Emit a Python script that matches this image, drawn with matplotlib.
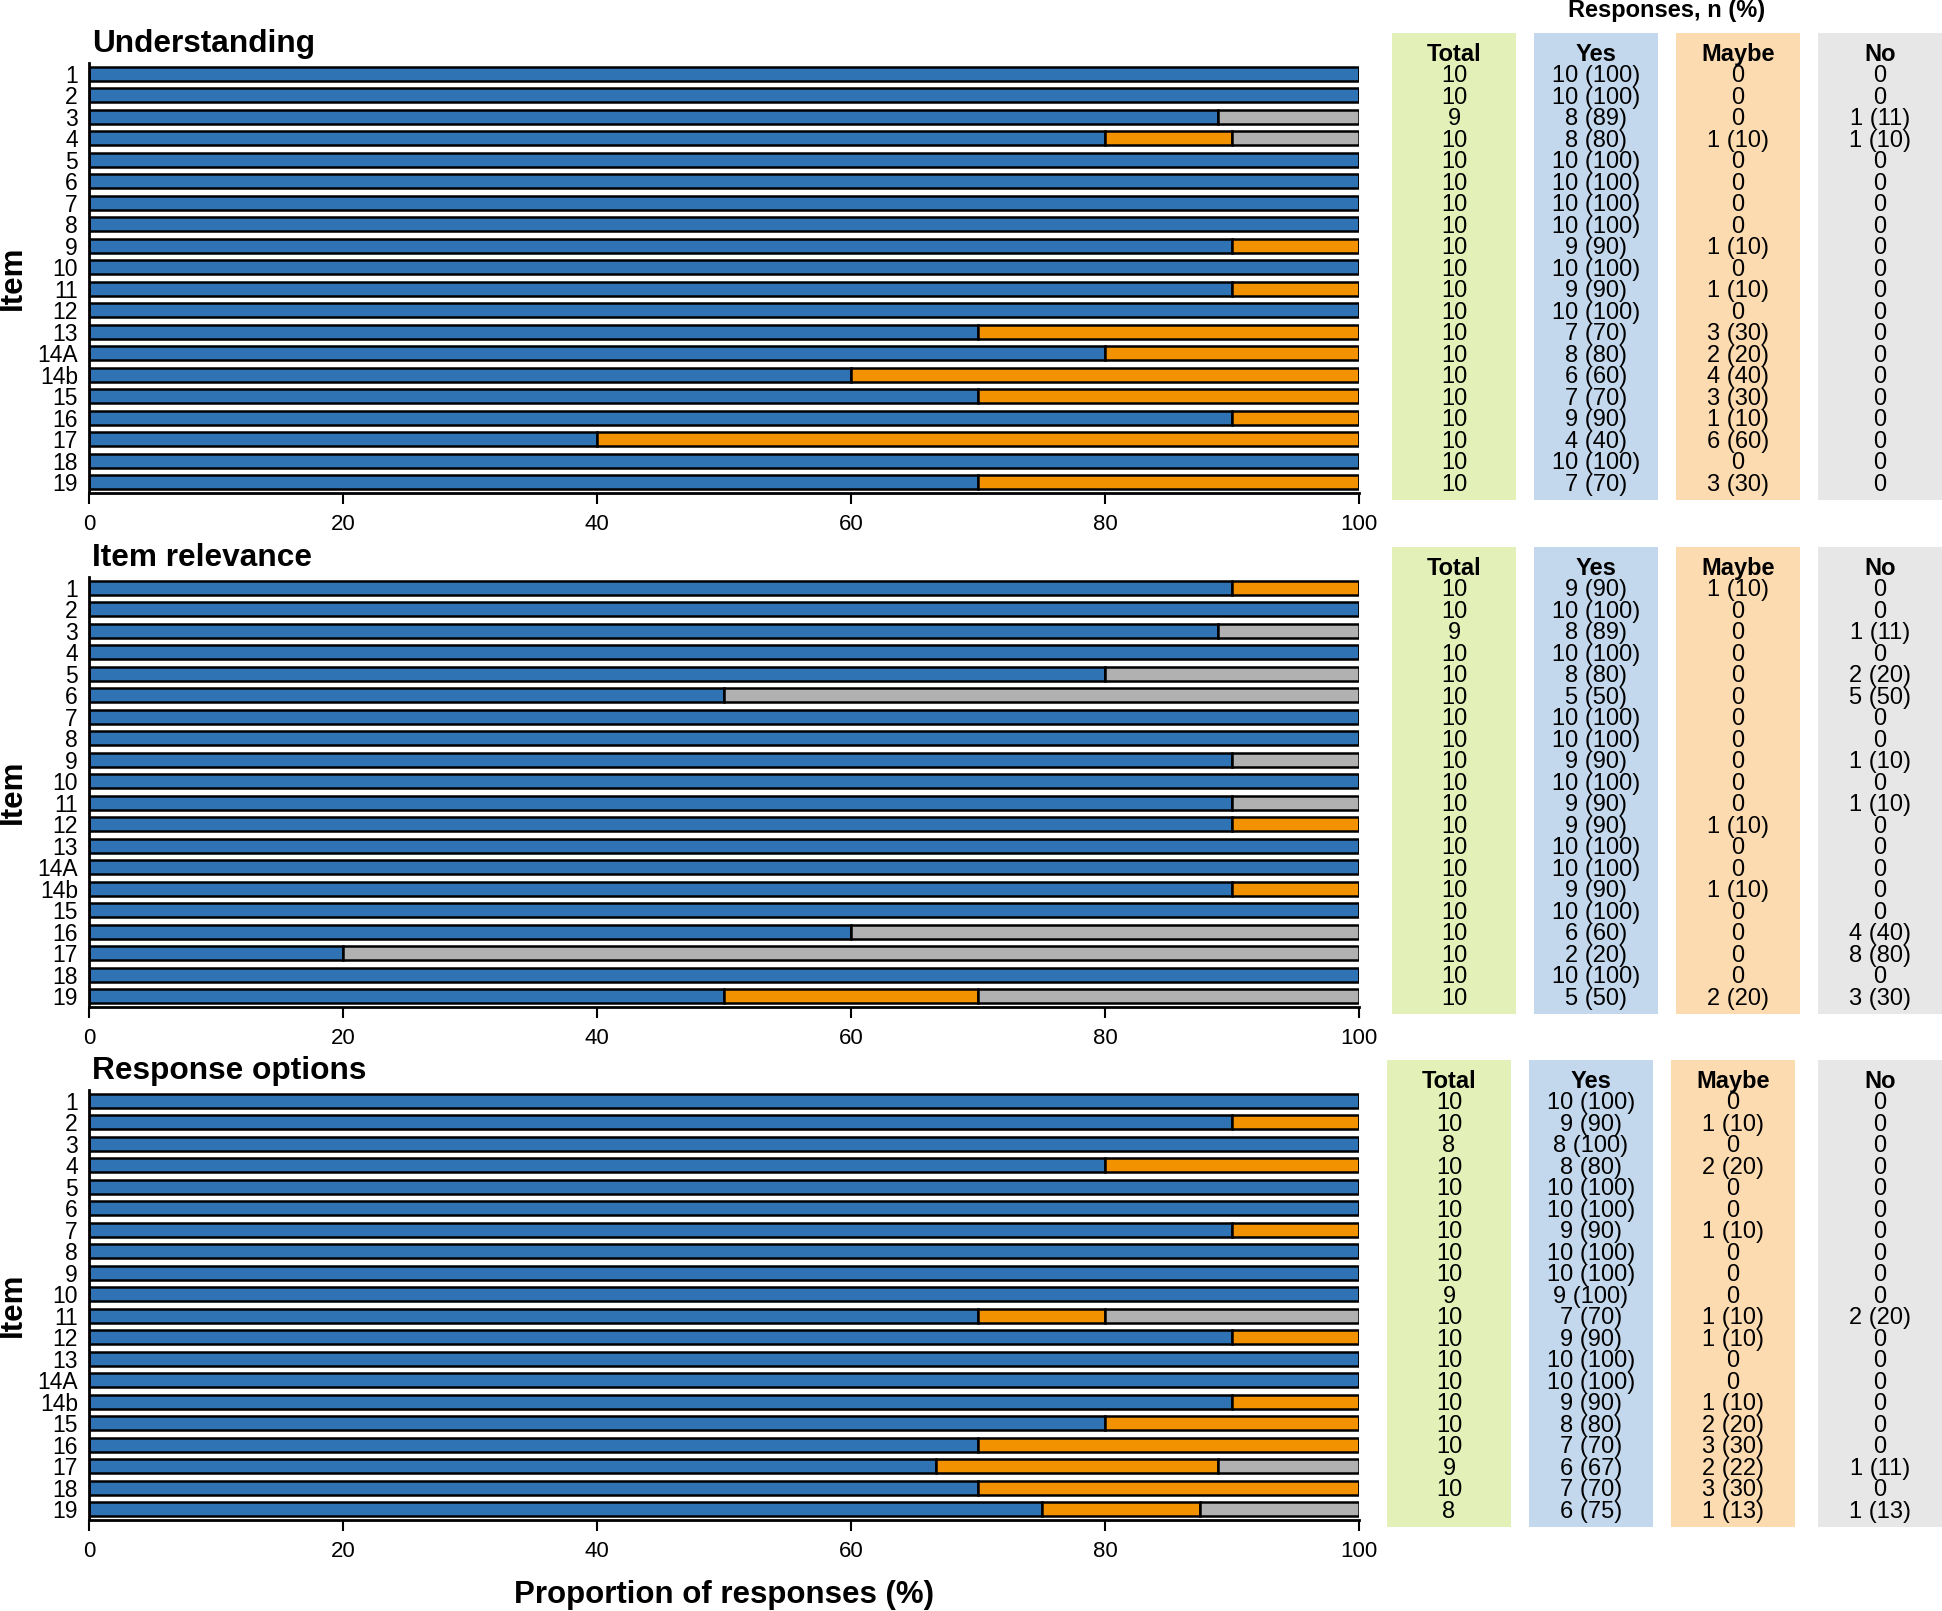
import numpy as np
import matplotlib.pyplot as plt
from matplotlib.patches import Rectangle

plt.rcParams['font.family'] = ['Liberation Sans', 'DejaVu Sans']

items = ['1', '2', '3', '4', '5', '6', '7', '8', '9', '10', '11', '12', '13',
         '14A', '14b', '15', '16', '17', '18', '19']
titles = ['Understanding', 'Item relevance', 'Response options']
columns = ['Total', 'Yes', 'Maybe', 'No']

# Understanding
und_total = [10, 10, 9, 10, 10, 10, 10, 10, 10, 10, 10, 10, 10, 10, 10, 10, 10, 10, 10, 10]
und_yes = [10, 10, 8, 8, 10, 10, 10, 10, 9, 10, 9, 10, 7, 8, 6, 7, 9, 4, 10, 7]
und_maybe = [0, 0, 0, 1, 0, 0, 0, 0, 1, 0, 1, 0, 3, 2, 4, 3, 1, 6, 0, 3]
und_no = [0, 0, 1, 1, 0, 0, 0, 0, 0, 0, 0, 0, 0, 0, 0, 0, 0, 0, 0, 0]

# Item relevance
rel_total = [10, 10, 9, 10, 10, 10, 10, 10, 10, 10, 10, 10, 10, 10, 10, 10, 10, 10, 10, 10]
rel_yes = [9, 10, 8, 10, 8, 5, 10, 10, 9, 10, 9, 9, 10, 10, 9, 10, 6, 2, 10, 5]
rel_maybe = [1, 0, 0, 0, 0, 0, 0, 0, 0, 0, 0, 1, 0, 0, 1, 0, 0, 0, 0, 2]
rel_no = [0, 0, 1, 0, 2, 5, 0, 0, 1, 0, 1, 0, 0, 0, 0, 0, 4, 8, 0, 3]

# Response options
opt_total = [10, 10, 8, 10, 10, 10, 10, 10, 10, 9, 10, 10, 10, 10, 10, 10, 10, 9, 10, 8]
opt_yes = [10, 9, 8, 8, 10, 10, 9, 10, 10, 9, 7, 9, 10, 10, 9, 8, 7, 6, 7, 6]
opt_maybe = [0, 1, 0, 2, 0, 0, 1, 0, 0, 0, 1, 1, 0, 0, 1, 2, 3, 2, 3, 1]
opt_no = [0, 0, 0, 0, 0, 0, 0, 0, 0, 0, 2, 0, 0, 0, 0, 0, 0, 1, 0, 1]

panels = [(und_total, und_yes, und_maybe, und_no),
          (rel_total, rel_yes, rel_maybe, rel_no),
          (opt_total, opt_yes, opt_maybe, opt_no)]

bar_colors = ['#2F73B5', '#F39200', '#B1B1B1']
box_colors = ['#E3F0B7', '#C3D8EC', '#FDDBB1', '#E7E7E7']

W, H = 1942, 1611
fig = plt.figure(figsize=(W / 100, H / 100), dpi=100)


def px_axes(left, top, width, height):
    return fig.add_axes([left / W, 1 - (top + height) / H, width / W, height / H])


def cell(n, t):
    if n == 0:
        return '0'
    return f'{n} ({int(n / t * 100 + 0.5)})'


panel_tops = [63, 577, 1090]
box_lefts = [[1392, 1534, 1676, 1818],
             [1392, 1534, 1676, 1818],
             [1387, 1529, 1671, 1818]]
y = np.arange(1, len(items) + 1)

for k, (title, data) in enumerate(zip(titles, panels)):
    total, yes, maybe, no = [np.array(d, dtype=float) for d in data]
    p_yes = yes / total * 100
    p_maybe = maybe / total * 100
    p_no = no / total * 100

    ax = px_axes(89, panel_tops[k], 1270, 430)
    ax.barh(y, p_yes, height=0.64, color=bar_colors[0], edgecolor='black', linewidth=1.8)
    ax.barh(y, p_maybe, left=p_yes, height=0.64, color=bar_colors[1], edgecolor='black', linewidth=1.8)
    ax.barh(y, p_no, left=p_yes + p_maybe, height=0.64, color=bar_colors[2], edgecolor='black', linewidth=1.8)
    ax.set_xlim(0, 100)
    ax.set_ylim(20.5, 0.5)
    ax.set_yticks(y, items)
    ax.set_xticks([0, 20, 40, 60, 80, 100])
    ax.tick_params(axis='y', length=0, pad=8, labelsize=16.5)
    ax.tick_params(axis='x', length=8, width=1.5, pad=7, labelsize=16)
    for s in ['top', 'right']:
        ax.spines[s].set_visible(False)
    for s in ['left', 'bottom']:
        ax.spines[s].set_linewidth(2)
    ax.annotate(title, xy=(0, 1), xycoords='axes fraction', xytext=(2, 8),
                textcoords='offset points', fontsize=22.8, fontweight='bold',
                ha='left', va='baseline')
    fig.text(13 / W, 1 - (panel_tops[k] + 215) / H, 'Item', rotation=90,
             fontsize=22.5, fontweight='bold', ha='center', va='center')

    # 右侧表格
    tab = px_axes(1387, panel_tops[k], 555, 430)
    tab.set_xlim(1387, 1942)
    tab.set_ylim(20.5, 0.5)
    tab.axis('off')
    col_text = [[str(int(t)) for t in total],
                [cell(int(n), int(t)) for n, t in zip(yes, total)],
                [cell(int(n), int(t)) for n, t in zip(maybe, total)],
                [cell(int(n), int(t)) for n, t in zip(no, total)]]
    for j, name in enumerate(columns):
        x0 = box_lefts[k][j]
        tab.add_patch(Rectangle((x0, -0.9), 124, 21.73, facecolor=box_colors[j],
                                edgecolor='none', clip_on=False))
        tab.text(x0 + 62, 0, name, fontsize=17, fontweight='bold',
                 ha='center', va='center_baseline')
        for i, s in enumerate(col_text[j]):
            tab.text(x0 + 62, y[i], s, fontsize=17, ha='center', va='center_baseline')

fig.text(1667 / W, 1 - 11 / H, 'Responses, n (%)', fontsize=17, fontweight='bold',
         ha='center', va='center')
fig.text(724 / W, 1 - 1595 / H, 'Proportion of responses (%)', fontsize=22.5,
         fontweight='bold', ha='center', va='center')

fig.savefig('out.png', dpi=100)
